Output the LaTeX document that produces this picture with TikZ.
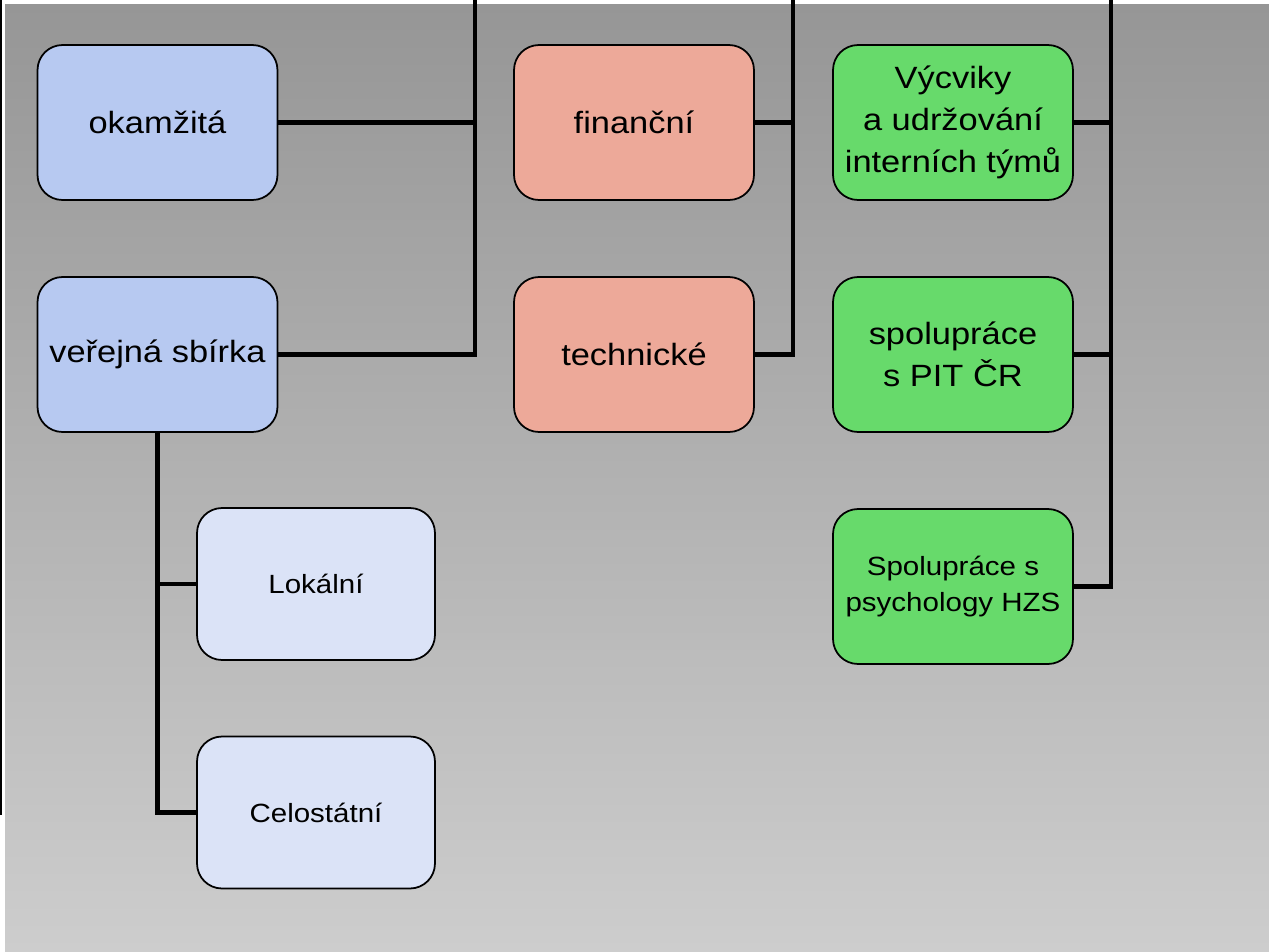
\documentclass[tikz,border=0pt]{standalone}
\usepackage{fontspec}
\setmainfont[FakeStretch=1.12]{Liberation Sans}
\usepackage{tikz}
\usetikzlibrary{calc}
\definecolor{blueBox}{RGB}{183,201,241}
\definecolor{paleBox}{RGB}{219,227,247}
\definecolor{redBox}{RGB}{237,169,153}
\definecolor{greenBox}{RGB}{103,218,107}
\definecolor{photoTop}{RGB}{150,150,150}
\definecolor{photoMid}{RGB}{172,172,172}
\definecolor{photoBot}{RGB}{205,205,205}
\newcommand{\bigtext}{\fontsize{17.5}{24}\selectfont}
\newcommand{\smalltext}{\fontsize{15}{21}\selectfont}

\begin{document}
\begin{tikzpicture}[x=0.02cm,y=-0.02cm,
  box/.style={draw=black,line width=1pt,rounded corners=0.5cm,
    minimum width=4.8cm,minimum height=3.1cm,inner sep=0pt,align=center,font=\bigtext},
  subbox/.style={box,minimum width=4.76cm,minimum height=3.04cm,fill=paleBox,font=\smalltext},
  bus/.style={line width=2.8pt}]
\useasboundingbox (0,0) rectangle (1269,951);

% Background (photo, grey)
\shade[top color=photoTop,middle color=photoMid,bottom color=photoBot] (5,4) rectangle (1269,951);
\fill[black] (0,0) rectangle (2,815);

% Bus tops
\coordinate (busL) at (475,0);
\coordinate (busM) at (793,0);
\coordinate (busR) at (1111,0);

% Left column
\node[box,fill=blueBox] (okamzita) at (157.5,122.5) {okamžitá};
\node[box,fill=blueBox] (sbirka) at (157.5,354.5) {veřejná sbírka};
\node[subbox] (lokalni) at (316,584) {Lokální};
\node[subbox] (celostatni) at (316,812.5) {Celostátní};

% Middle column
\node[box,fill=redBox] (financni) at (634,122.5) {finanční};
\node[box,fill=redBox] (technicke) at (634,354.5) {technické};

% Right column
\node[box,fill=greenBox] (vycviky) at (953,122.5) {Výcviky\\a udržování\\interních týmů};
\node[box,fill=greenBox] (pit) at (953,354.5) {spolupráce\\s PIT ČR};
\node[box,fill=greenBox,font=\smalltext] (psycho) at (953,586.5) {Spolupráce s\\psychology HZS};

% Connectors
\draw[bus] (okamzita.east) -- (okamzita.east -| busL);
\draw[bus] (sbirka.east) -| (busL);
\draw[bus] (sbirka.south) |- (celostatni.west);
\draw[bus] (lokalni.west) -- (lokalni.west -| sbirka.south);

\draw[bus] (financni.east) -- (financni.east -| busM);
\draw[bus] (technicke.east) -| (busM);

\draw[bus] (vycviky.east) -- (vycviky.east -| busR);
\draw[bus] (pit.east) -- (pit.east -| busR);
\draw[bus] (psycho.east) -| (busR);

\end{tikzpicture}
\end{document}
